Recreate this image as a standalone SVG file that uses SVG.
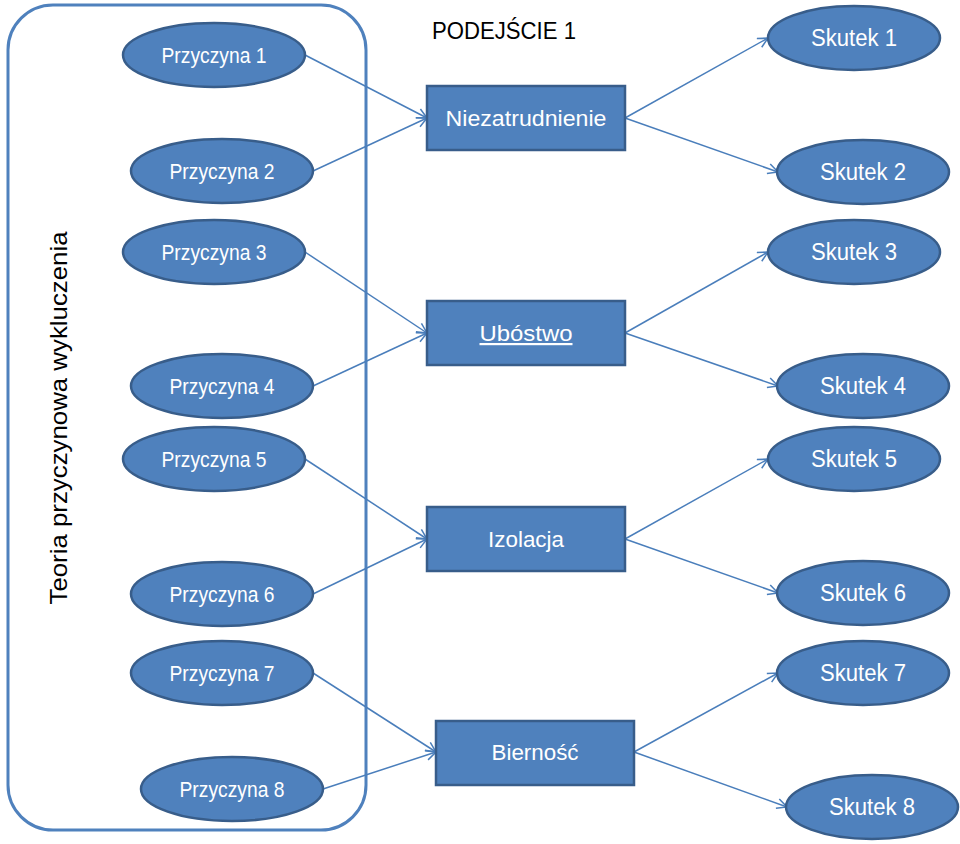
<svg xmlns="http://www.w3.org/2000/svg" width="960" height="844" viewBox="0 0 960 844">
<defs>
<marker id="arr" viewBox="0 0 12 12" refX="11" refY="6" markerWidth="12" markerHeight="12" markerUnits="userSpaceOnUse" orient="auto">
<path d="M1,1 L11,6 L1,11" fill="none" stroke="#4a7ebb" stroke-width="1.5"/>
</marker>
<style>
.el{fill:#4f81bd;stroke:#385d8a;stroke-width:2.5}
.bx{fill:#4f81bd;stroke:#385d8a;stroke-width:2.5}
.t{font-family:"Liberation Sans",Arial,sans-serif;font-size:22px;fill:#ffffff;text-anchor:middle}
.s{font-size:23px}
.c{stroke:#4a7ebb;stroke-width:1.5;fill:none;marker-end:url(#arr)}
</style>
</defs>
<rect width="960" height="844" fill="#ffffff"/>
<rect id="frame" x="8" y="5" width="358" height="825" rx="45" ry="45" fill="none" stroke="#4f81bd" stroke-width="3"/>
<text x="58" y="418" transform="rotate(-90 58 418)" font-family="Liberation Sans,Arial,sans-serif" font-size="24" fill="#000" text-anchor="middle" dominant-baseline="central" textLength="373" lengthAdjust="spacingAndGlyphs">Teoria przyczynowa wykluczenia</text>
<text x="504" y="39" font-family="Liberation Sans,Arial,sans-serif" font-size="24" fill="#000" text-anchor="middle" textLength="144" lengthAdjust="spacingAndGlyphs">PODEJŚCIE 1</text>
<g id="connectors">
<line class="c" x1="305" y1="55" x2="427" y2="118"/>
<line class="c" x1="313" y1="171" x2="427" y2="118"/>
<line class="c" x1="625" y1="118" x2="768" y2="38"/>
<line class="c" x1="625" y1="118" x2="778" y2="172"/>
<line class="c" x1="305" y1="252" x2="427" y2="333"/>
<line class="c" x1="313" y1="386" x2="427" y2="333"/>
<line class="c" x1="625" y1="333" x2="768" y2="252"/>
<line class="c" x1="625" y1="333" x2="778" y2="386"/>
<line class="c" x1="305" y1="459" x2="427" y2="539"/>
<line class="c" x1="313" y1="594" x2="427" y2="539"/>
<line class="c" x1="625" y1="539" x2="768" y2="459"/>
<line class="c" x1="625" y1="539" x2="778" y2="593"/>
<line class="c" x1="313" y1="673" x2="436" y2="752"/>
<line class="c" x1="323" y1="789" x2="436" y2="752"/>
<line class="c" x1="634" y1="752" x2="778" y2="673"/>
<line class="c" x1="634" y1="752" x2="787" y2="807"/>
</g>
<g id="p1"><ellipse class="el" cx="214" cy="55" rx="91" ry="32"/><text class="t" x="214" y="63" textLength="105" lengthAdjust="spacingAndGlyphs">Przyczyna 1</text></g>
<g id="p2"><ellipse class="el" cx="222" cy="171" rx="91" ry="32"/><text class="t" x="222" y="179" textLength="105" lengthAdjust="spacingAndGlyphs">Przyczyna 2</text></g>
<g id="p3"><ellipse class="el" cx="214" cy="252" rx="91" ry="32"/><text class="t" x="214" y="260" textLength="105" lengthAdjust="spacingAndGlyphs">Przyczyna 3</text></g>
<g id="p4"><ellipse class="el" cx="222" cy="386" rx="91" ry="32"/><text class="t" x="222" y="394" textLength="105" lengthAdjust="spacingAndGlyphs">Przyczyna 4</text></g>
<g id="p5"><ellipse class="el" cx="214" cy="459" rx="91" ry="32"/><text class="t" x="214" y="467" textLength="105" lengthAdjust="spacingAndGlyphs">Przyczyna 5</text></g>
<g id="p6"><ellipse class="el" cx="222" cy="594" rx="91" ry="32"/><text class="t" x="222" y="602" textLength="105" lengthAdjust="spacingAndGlyphs">Przyczyna 6</text></g>
<g id="p7"><ellipse class="el" cx="222" cy="673" rx="91" ry="32"/><text class="t" x="222" y="681" textLength="105" lengthAdjust="spacingAndGlyphs">Przyczyna 7</text></g>
<g id="p8"><ellipse class="el" cx="232" cy="789" rx="91" ry="32"/><text class="t" x="232" y="797" textLength="105" lengthAdjust="spacingAndGlyphs">Przyczyna 8</text></g>
<g id="b1"><rect class="bx" x="427" y="86" width="198" height="64"/><text class="t" x="526" y="126" textLength="161" lengthAdjust="spacingAndGlyphs">Niezatrudnienie</text></g>
<g id="b2"><rect class="bx" x="427" y="301" width="198" height="64"/><text class="t" x="526" y="341" textLength="93" lengthAdjust="spacingAndGlyphs" text-decoration="underline">Ubóstwo</text></g>
<g id="b3"><rect class="bx" x="427" y="507" width="198" height="64"/><text class="t" x="526" y="547" textLength="76" lengthAdjust="spacingAndGlyphs">Izolacja</text></g>
<g id="b4"><rect class="bx" x="436" y="721" width="198" height="64"/><text class="t" x="535" y="760" textLength="87" lengthAdjust="spacingAndGlyphs">Bierność</text></g>
<g id="s1"><ellipse class="el" cx="854" cy="38" rx="86" ry="32"/><text class="t s" x="854" y="46" textLength="86" lengthAdjust="spacingAndGlyphs">Skutek 1</text></g>
<g id="s2"><ellipse class="el" cx="863" cy="172" rx="86" ry="32"/><text class="t s" x="863" y="180" textLength="86" lengthAdjust="spacingAndGlyphs">Skutek 2</text></g>
<g id="s3"><ellipse class="el" cx="854" cy="252" rx="86" ry="32"/><text class="t s" x="854" y="260" textLength="86" lengthAdjust="spacingAndGlyphs">Skutek 3</text></g>
<g id="s4"><ellipse class="el" cx="863" cy="386" rx="86" ry="32"/><text class="t s" x="863" y="394" textLength="86" lengthAdjust="spacingAndGlyphs">Skutek 4</text></g>
<g id="s5"><ellipse class="el" cx="854" cy="459" rx="86" ry="32"/><text class="t s" x="854" y="467" textLength="86" lengthAdjust="spacingAndGlyphs">Skutek 5</text></g>
<g id="s6"><ellipse class="el" cx="863" cy="593" rx="86" ry="32"/><text class="t s" x="863" y="601" textLength="86" lengthAdjust="spacingAndGlyphs">Skutek 6</text></g>
<g id="s7"><ellipse class="el" cx="863" cy="673" rx="86" ry="32"/><text class="t s" x="863" y="681" textLength="86" lengthAdjust="spacingAndGlyphs">Skutek 7</text></g>
<g id="s8"><ellipse class="el" cx="872" cy="807" rx="86" ry="32"/><text class="t s" x="872" y="815" textLength="86" lengthAdjust="spacingAndGlyphs">Skutek 8</text></g>
</svg>
